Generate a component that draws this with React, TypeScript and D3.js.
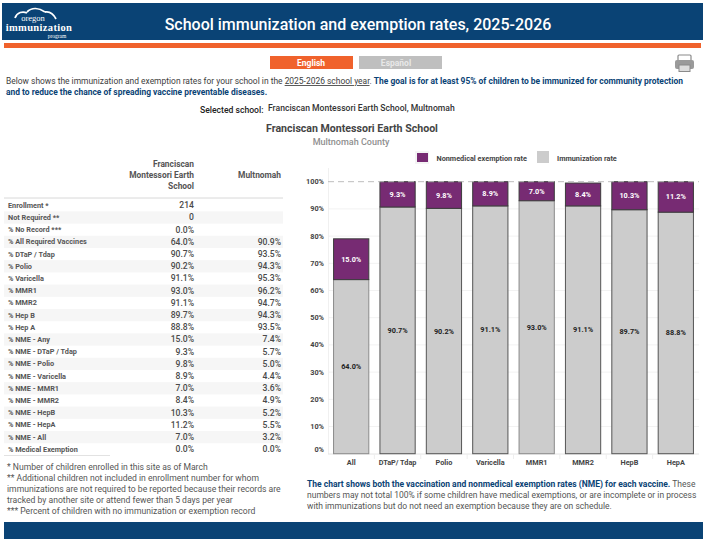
import React from "react";
import * as d3 from "d3";

const W = 705, H = 542;
const FONT = "Roboto, sans-serif";

const categories = ["All", "DTaP/ Tdap", "Polio", "Varicella", "MMR1", "MMR2", "HepB", "HepA"];
const immunization = [64.0, 90.7, 90.2, 91.1, 93.0, 91.1, 89.7, 88.8];
const nonmedical = [15.0, 9.3, 9.8, 8.9, 7.0, 8.4, 10.3, 11.2];
const yTicks = [0, 10, 20, 30, 40, 50, 60, 70, 80, 90, 100];

const rowLabels = ["Enrollment *", "Not Required **", "% No Record ***", "% All Required Vaccines", "% DTaP / Tdap", "% Polio", "% Varicella", "% MMR1", "% MMR2", "% Hep B", "% Hep A", "% NME - Any", "% NME - DTaP / Tdap", "% NME - Polio", "% NME - Varicella", "% NME - MMR1", "% NME - MMR2", "% NME - HepB", "% NME - HepA", "% NME - All", "% Medical Exemption"];
const schoolValues = ["214", "0", "0.0%", "64.0%", "90.7%", "90.2%", "91.1%", "93.0%", "91.1%", "89.7%", "88.8%", "15.0%", "9.3%", "9.8%", "8.9%", "7.0%", "8.4%", "10.3%", "11.2%", "7.0%", "0.0%"];
const countyValues = ["", "", "", "90.9%", "93.5%", "94.3%", "95.3%", "96.2%", "94.7%", "94.3%", "93.5%", "7.4%", "5.7%", "5.0%", "4.4%", "3.6%", "4.9%", "5.2%", "5.5%", "3.2%", "0.0%"];
const footnotes = ["* Number of children enrolled in this site as of March", "** Additional children not included in enrollment number for whom", "immunizations are not required to be reported because their records are", "tracked by another site or attend fewer than 5 days per year", "*** Percent of children with no immunization or exemption record"];

const NAVY = "#0a4375", ORANGE = "#f0622c", PURPLE = "#772b73", GREY = "#cccccc", TXT = "#3d3d3d";

export default function App() {
  const x = d3.scaleBand<string>().domain(categories).range([328, 699]).paddingInner(0.24).paddingOuter(0.12);
  const y = d3.scaleLinear().domain([0, 100]).range([453.7, 181.7]);
  const rowY = d3.scaleLinear().domain([0, 20]).range([205.3, 449.3]);
  return (
    <svg width={W} height={H} viewBox={`0 0 ${W} ${H}`} style={{ position: "fixed", left: 0, top: 0, background: "#fff", fontFamily: FONT }}>
      {/* header */}
      <rect x={2} y={3} width={701} height={37} fill={NAVY} />
      <rect x={4} y={43} width={697} height={5} fill={ORANGE} />
      <g fill="none" stroke="#fff" strokeWidth={1.8}>
        <path d="M15 18 C17 12 23 11 27 13" />
        <path d="M27 12 C32 7 39 8 45 12" />
        <path d="M45 12 C50 11 54 15 56 19" />
      </g>
      <g textAnchor="middle" fill="#fff" fontFamily="'Liberation Serif', serif">
        <text x={33} y={21} fontSize={8.5}>oregon</text>
        <text x={39} y={31} fontSize={10.5} fontWeight={700} letterSpacing={0.35}>immunization</text>
        <text x={57} y={38} fontSize={5.5}>program</text>
      </g>
      <text x={358} y={29.5} textAnchor="middle" fill="#fff" fontSize={16} fontWeight={500}>School immunization and exemption rates, 2025-2026</text>

      {/* language buttons */}
      <rect x={270} y={56} width={83} height={13} fill={ORANGE} />
      <rect x={359} y={56} width={83} height={13} fill="#bfbfbf" />
      <text x={311} y={66} textAnchor="middle" fill="#fff" fontSize={8.5} fontWeight={700}>English</text>
      <text x={396} y={66} textAnchor="middle" fill="#e8e8e8" fontSize={8.5} fontWeight={700}>Español</text>

      {/* printer */}
      <g>
        <rect x={678} y={55} width={13} height={6} rx={1} fill="#fff" stroke="#8a8a8a" strokeWidth={1.2} />
        <rect x={675} y={60} width={19} height={9} rx={2} fill="#9a9a9a" />
        <rect x={679} y={65} width={11} height={6.5} fill="#dcdcdc" stroke="#8a8a8a" />
      </g>

      {/* intro */}
      <text x={6} y={84} fontSize={8.45} fill={TXT}>
        Below shows the immunization and exemption rates for your school in the <tspan textDecoration="underline">2025-2026 school year</tspan>. <tspan fill={NAVY} fontWeight={700}>The goal is for at least 95% of children to be immunized for community protection</tspan>
      </text>
      <text x={6} y={95} fontSize={8.45} fill={NAVY} fontWeight={700}>and to reduce the chance of spreading vaccine preventable diseases.</text>
      <text x={200} y={113} fontSize={8.6} fill="#222" fontWeight={500}>Selected school:</text>
      <text x={268} y={111} fontSize={8.6} fill="#333" fontWeight={500}>Franciscan Montessori Earth School, Multnomah</text>
      <text x={352} y={132} textAnchor="middle" fontSize={10.6} fill="#444" fontWeight={700}>Franciscan Montessori Earth School</text>
      <text x={351} y={145} textAnchor="middle" fontSize={9} fill="#8f8f8f" fontWeight={500}>Multnomah County</text>

      {/* table */}
      <g fontSize={8.4} fontWeight={700} fill="#555" textAnchor="end">
        <text x={194} y={167}>Franciscan</text>
        <text x={194} y={178}>Montessori Earth</text>
        <text x={194} y={189}>School</text>
        <text x={281} y={178}>Multnomah</text>
      </g>
      <line x1={4} x2={283} y1={198} y2={198} stroke="#d8d8d8" />
      {rowLabels.map((label, i) => (
        <g key={label}>
          {i % 2 === 1 && <rect x={4} y={rowY(i) - 6.1} width={279} height={12.2} fill="#f6f6f6" />}
          <text x={8} y={rowY(i) + 2.5} fontSize={7.3} fontWeight={700} fill="#555">{label}</text>
          <text x={194} y={rowY(i) + 2.8} fontSize={8.6} textAnchor="end" fill="#4a4a4a" fontWeight={500}>{schoolValues[i]}</text>
          <text x={281} y={rowY(i) + 2.8} fontSize={8.6} textAnchor="end" fill="#4a4a4a" fontWeight={500}>{countyValues[i]}</text>
        </g>
      ))}
      <line x1={4} x2={110} y1={455.5} y2={455.5} stroke="#e2e2e2" />
      {footnotes.map((t, i) => (
        <text key={t} x={7} y={470 + i * 11.1} fontSize={8.6} fill="#555">{t}</text>
      ))}

      {/* legend */}
      <rect x={415} y={151} width={14} height={13} fill="#f4f4f4" />
      <rect x={417} y={153} width={11} height={9} fill={PURPLE} />
      <text x={436.5} y={161} fontSize={7.3} fontWeight={700} fill="#444">Nonmedical exemption rate</text>
      <rect x={537} y={151} width={12} height={12} fill={GREY} />
      <text x={557} y={161} fontSize={7.3} fontWeight={700} fill="#444">Immunization rate</text>

      {/* chart grid */}
      {yTicks.filter(t => t !== 100 && t !== 0).map(t => (
        <line key={t} x1={328} x2={699} y1={y(t)} y2={y(t)} stroke="#f2f2f2" />
      ))}
      <line x1={328.5} x2={328.5} y1={168} y2={454} stroke="#f0f0f0" />
      <line x1={328} x2={699} y1={454} y2={454} stroke="#e4e4e4" />
      {categories.map((c, i) => i > 0 && (
        <line key={c} x1={(x(c) as number) - x.step() * 0.12} x2={(x(c) as number) - x.step() * 0.12} y1={454} y2={459} stroke="#eeeeee" />
      ))}
      {yTicks.map(t => (
        <text key={t} x={324} y={t === 0 ? 451.5 : y(t) + 2.5} textAnchor="end" fontSize={7.3} fontWeight={700} fill="#444">{t}%</text>
      ))}

      {/* bars */}
      {categories.map((c, i) => {
        const bx = x(c) as number, bw = x.bandwidth();
        const imm = immunization[i], nme = nonmedical[i];
        const total = imm + nme;
        return (
          <g key={c}>
            <rect x={bx} y={y(imm)} width={bw} height={y(0) - y(imm)} fill={GREY} stroke={i === 0 || i === 4 ? "#8a8a8a" : "#555"} strokeWidth={1} />
            <rect x={bx} y={y(total)} width={bw} height={y(imm) - y(total)} fill={PURPLE} stroke="#3c3c3c" strokeWidth={1} />
            <text x={bx + bw / 2} y={y(imm + nme / 2) + 2.5} textAnchor="middle" fontSize={7.3} fontWeight={700} fill="#fff">{nme.toFixed(1)}%</text>
            <text x={bx + bw / 2} y={y(imm / 2) + 2.5} textAnchor="middle" fontSize={7.3} fontWeight={700} fill="#222">{imm.toFixed(1)}%</text>
            <text x={bx + bw / 2} y={464.5} textAnchor="middle" fontSize={7.3} fontWeight={700} fill="#444">{c}</text>
          </g>
        );
      })}
      <line x1={328} x2={699} y1={y(100)} y2={y(100)} stroke="#bdbdbd" strokeWidth={1} strokeDasharray="6 4" />

      {/* note */}
      <text x={307} y={487} fontSize={8.5} fill="#555">
        <tspan fill={NAVY} fontWeight={700}>The chart shows both the vaccination and nonmedical exemption rates (NME) for each vaccine.</tspan> These
      </text>
      <text x={307} y={498} fontSize={8.5} fill="#555">numbers may not total 100% if some children have medical exemptions, or are incomplete or in process</text>
      <text x={307} y={509} fontSize={8.5} fill="#555">with immunizations but do not need an exemption because they are on schedule.</text>

      {/* footer */}
      <rect x={4} y={522} width={699} height={17} fill={NAVY} />
    </svg>
  );
}
